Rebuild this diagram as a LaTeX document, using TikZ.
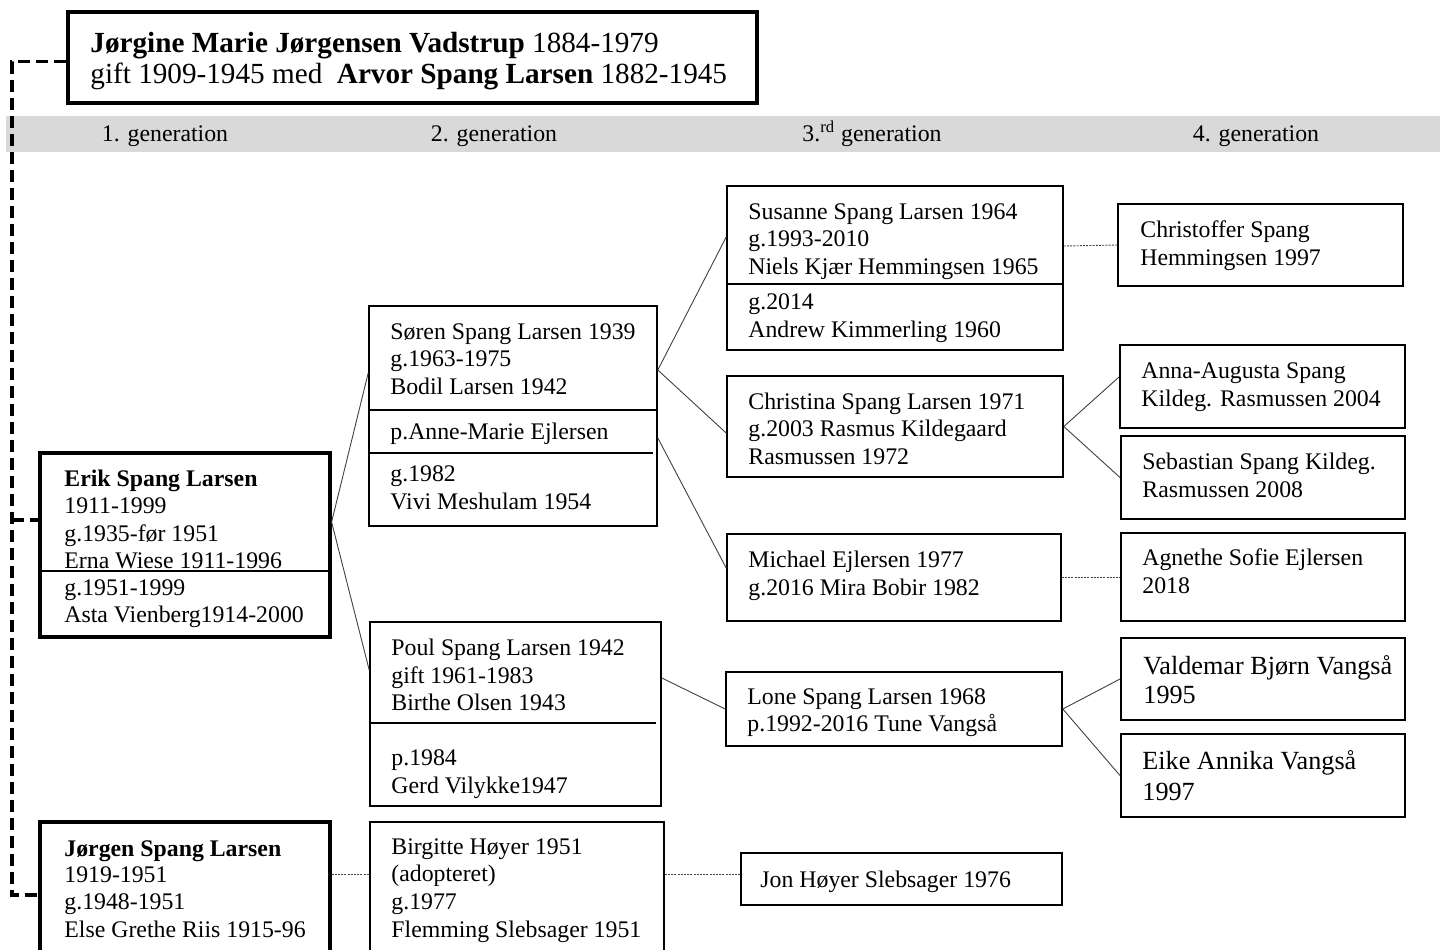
\documentclass[tikz,border=0pt]{standalone}
\usepackage{fontspec}
\setmainfont{Liberation Serif}
\usetikzlibrary{fit}
\definecolor{bandgray}{RGB}{217,217,217}
\tikzset{
  card/.style={draw, line width=0.8pt, inner sep=0pt},
  kidcard/.style={draw, line width=1pt, inner sep=0pt},
  heavycard/.style={draw, line width=1.6pt, inner sep=0pt},
  titlecard/.style={draw, line width=2pt, inner sep=0pt},
  divider/.style={line width=0.6pt},
  txt/.style={anchor=base west, inner sep=0pt, font=\fontsize{11.9}{13.8}\selectfont},
  bigtxt/.style={txt, font=\fontsize{13.1}{15}\selectfont},
  titletxt/.style={txt, font=\fontsize{14.6}{17}\selectfont},
  gentxt/.style={anchor=base, inner sep=0pt, font=\fontsize{11.9}{13.8}\selectfont},
  link/.style={line width=0.45pt, black!75},
  hlink/.style={link, dash pattern=on 1pt off 0.6pt},
  kinline/.style={line width=1.75pt, dash pattern=on 6pt off 3pt},
}
\begin{document}
\begin{tikzpicture}[x=0.5pt, y=-0.5pt]
\useasboundingbox (0,0) rectangle (1440,949);
\clip (0,0) rectangle (1440,949);

% generation band
\fill[bandgray] (6,116) rectangle (1440,152);
\node[gentxt] (gen1) at (165,141) {1. generation};
\node[gentxt] (gen2) at (494,141) {2. generation};
\node[gentxt] (gen3) at (872,141) {3.\textsuperscript{rd} generation};
\node[gentxt] (gen4) at (1256,141) {4. generation};

% ancestors
\node[titlecard, fit={(68,12) (757,103)}] (title) {};
\node[titletxt] (title-a) at (90,52) {\textbf{Jørgine Marie Jørgensen Vadstrup} 1884-1979};
\node[titletxt] (title-b) at (90,83) {gift 1909-1945 med\ \ \textbf{Arvor Spang Larsen} 1882-1945};

% 1st generation
\node[heavycard, fit={(40,453) (330,637)}] (erik) {};
\draw[divider] (40,571) -- (330,571);
\node[txt] (erik-a) at (64,486) {\textbf{Erik Spang Larsen}};
\node[txt] (erik-b) at (64,513) {1911-1999};
\node[txt] (erik-c) at (64,541) {g.1935-før 1951};
\node[txt] (erik-d) at (64,568) {Erna Wiese 1911-1996};
\node[txt] (erik-e) at (64,595) {g.1951-1999};
\node[txt] (erik-f) at (64,622) {Asta Vienberg1914-2000};

\node[heavycard, fit={(40,822) (330,975)}] (jorgen) {};
\node[txt] (jorgen-a) at (64,856) {\textbf{Jørgen Spang Larsen}};
\node[txt] (jorgen-b) at (64,882) {1919-1951};
\node[txt] (jorgen-c) at (64,909) {g.1948-1951};
\node[txt] (jorgen-d) at (64,937) {Else Grethe Riis 1915-96};

% 2nd generation
\node[card, fit={(369,306) (657,526)}] (soren) {};
\draw[divider] (369,410) -- (657,410);
\draw[divider] (369,453) -- (653,453);
\node[txt] (soren-a) at (390,339) {Søren Spang Larsen 1939};
\node[txt] (soren-b) at (390,366) {g.1963-1975};
\node[txt] (soren-c) at (390,394) {Bodil Larsen 1942};
\node[txt] (soren-d) at (390,439) {p.Anne-Marie Ejlersen};
\node[txt] (soren-e) at (390,481) {g.1982};
\node[txt] (soren-f) at (390,509) {Vivi Meshulam 1954};

\node[card, fit={(370,622) (661,806)}] (poul) {};
\draw[divider] (370,723) -- (656,723);
\node[txt] (poul-a) at (391,655) {Poul Spang Larsen 1942};
\node[txt] (poul-b) at (391,683) {gift 1961-1983};
\node[txt] (poul-c) at (391,710) {Birthe Olsen 1943};
\node[txt] (poul-d) at (391,765) {p.1984};
\node[txt] (poul-e) at (391,793) {Gerd Vilykke1947};

\node[card, fit={(370,822) (664,975)}] (birgitte) {};
\node[txt] (birgitte-a) at (391,854) {Birgitte Høyer 1951};
\node[txt] (birgitte-b) at (391,881) {(adopteret)};
\node[txt] (birgitte-c) at (391,909) {g.1977};
\node[txt] (birgitte-d) at (391,937) {Flemming Slebsager 1951};

% 3rd generation
\node[card, fit={(727,186) (1063,350)}] (susanne) {};
\draw[divider] (727,284) -- (1063,284);
\node[txt] (susanne-a) at (748,219) {Susanne Spang Larsen 1964};
\node[txt] (susanne-b) at (748,246) {g.1993-2010};
\node[txt] (susanne-c) at (748,274) {Niels Kjær Hemmingsen 1965};
\node[txt] (susanne-d) at (748,309) {g.2014};
\node[txt] (susanne-e) at (748,337) {Andrew Kimmerling 1960};

\node[card, fit={(727,376) (1063,477)}] (christina) {};
\node[txt] (christina-a) at (748,409) {Christina Spang Larsen 1971};
\node[txt] (christina-b) at (748,436) {g.2003 Rasmus Kildegaard};
\node[txt] (christina-c) at (748,464) {Rasmussen 1972};

\node[card, fit={(727,534) (1061,621)}] (michael) {};
\node[txt] (michael-a) at (748,567) {Michael Ejlersen 1977};
\node[txt] (michael-b) at (748,595) {g.2016 Mira Bobir 1982};

\node[card, fit={(726,672) (1062,746)}] (lone) {};
\node[txt] (lone-a) at (747,704) {Lone Spang Larsen 1968};
\node[txt] (lone-b) at (747,731) {p.1992-2016 Tune Vangså};

\node[card, fit={(741,853) (1062,905)}] (jon) {};
\node[txt] (jon-a) at (760,887) {Jon Høyer Slebsager 1976};

% 4th generation
\node[kidcard, fit={(1118,204) (1403,286)}] (christoffer) {};
\node[txt] (christoffer-a) at (1140,237) {Christoffer Spang};
\node[txt] (christoffer-b) at (1140,265) {Hemmingsen 1997};

\node[kidcard, fit={(1120,345) (1405,428)}] (anna) {};
\node[txt] (anna-a) at (1141,378) {Anna-Augusta Spang};
\node[txt] (anna-b) at (1141,406) {Kildeg. Rasmussen 2004};

\node[kidcard, fit={(1121,436) (1405,519)}] (sebastian) {};
\node[txt] (sebastian-a) at (1142,469) {Sebastian Spang Kildeg.};
\node[txt] (sebastian-b) at (1142,497) {Rasmussen 2008};

\node[kidcard, fit={(1121,533) (1405,621)}] (agnethe) {};
\node[txt] (agnethe-a) at (1142,565) {Agnethe Sofie Ejlersen};
\node[txt] (agnethe-b) at (1142,593) {2018};

\node[kidcard, fit={(1121,638) (1405,720)}] (valdemar) {};
\node[bigtxt] (valdemar-a) at (1143,674) {Valdemar Bjørn Vangså};
\node[bigtxt] (valdemar-b) at (1143,703) {1995};

\node[kidcard, fit={(1121,734) (1405,817)}] (eike) {};
\node[bigtxt] (eike-a) at (1142,769) {Eike Annika Vangså};
\node[bigtxt] (eike-b) at (1142,800) {1997};

% family line from the ancestors down the left side
\coordinate (spine) at (12,0);
\coordinate (title-out) at ([yshift=-2pt]title.west);
\coordinate (erik-in) at ([yshift=12.5pt]erik.west);
\coordinate (jorgen-in) at ([yshift=1.75pt]jorgen.west);
\draw[kinline] (title-out) -| (spine |- jorgen-in) -- (jorgen-in);
\draw[kinline] (spine |- erik-in) -- (erik-in);

% descent connectors
\draw[link] ([yshift=11.5pt]erik.east) -- ([yshift=21.5pt]soren.west);
\draw[link] ([yshift=11.5pt]erik.east) -- ([yshift=22pt]poul.west);
\draw[hlink] ([yshift=12.25pt]jorgen.east) -- ([yshift=12.25pt]birgitte.west);

\draw[link] ([yshift=23pt]soren.east) -- ([yshift=15.5pt]susanne.west);
\draw[link] ([yshift=23pt]soren.east) -- ([yshift=-3.25pt]christina.west);
\draw[link] ([yshift=-11pt]soren.east) -- ([yshift=4.75pt]michael.west);
\draw[link] ([yshift=18pt]poul.east) -- (lone.west);
\draw[hlink] ([yshift=12.25pt]birgitte.east) -- ([yshift=2.5pt]jon.west);

\draw[hlink] ([yshift=11pt]susanne.east) -- (christoffer.west);
\draw[link] (christina.east) -- ([yshift=4.75pt]anna.west);
\draw[link] (christina.east) -- (sebastian.west);
\draw[hlink] (michael.east) -- (michael.east -| agnethe.west);
\draw[link] (lone.east) -- (valdemar.west);
\draw[link] (lone.east) -- (eike.west);
\end{tikzpicture}
\end{document}
